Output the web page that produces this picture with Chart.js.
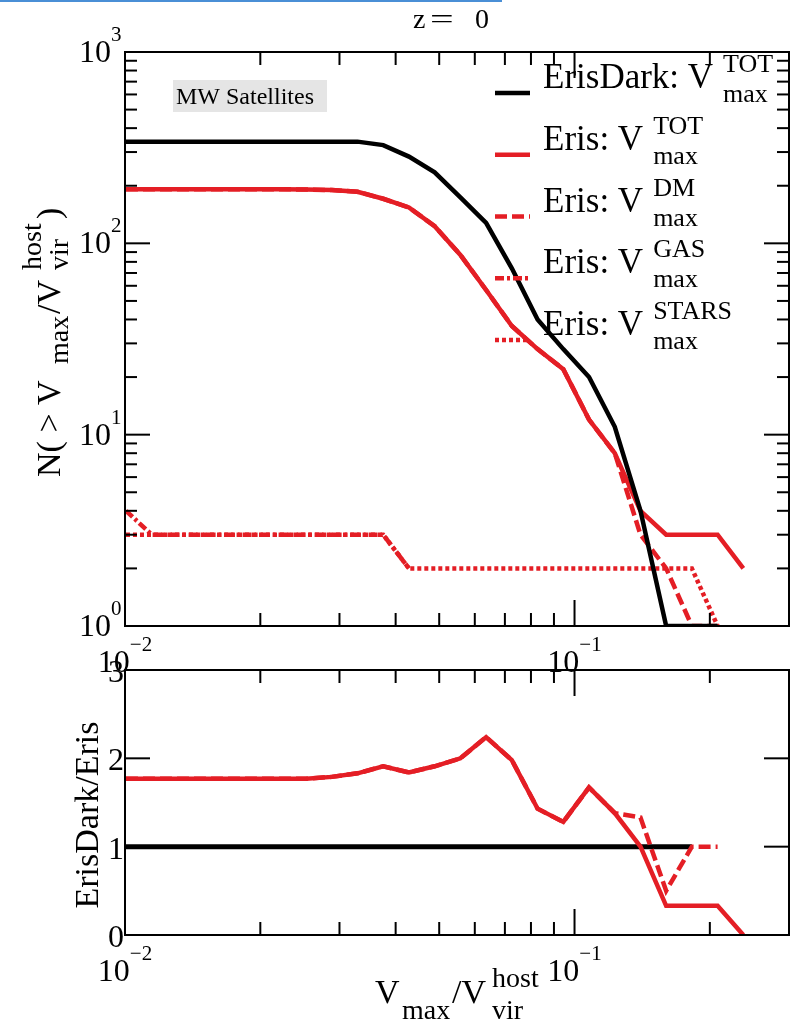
<!DOCTYPE html>
<html><head><meta charset="utf-8">
<script src="https://cdn.jsdelivr.net/npm/chart.js@4"></script>
<style>
html,body{margin:0;padding:0;background:#fff;}
#wrap{position:relative;width:792px;height:1025px;overflow:hidden;}
canvas{position:absolute;left:0;top:0;}
</style></head><body>
<div id="wrap"><canvas id="cTop" width="792" height="1025"></canvas><canvas id="cBot" width="792" height="1025"></canvas></div>
<script>
// ---- data ----
const vRatio = [0.01005, 0.01147, 0.01308, 0.01493, 0.01703, 0.01943, 0.02216, 0.02528, 0.02884, 0.03290,
                0.03753, 0.04282, 0.04885, 0.05573, 0.06358, 0.07254, 0.08276, 0.09441, 0.1077, 0.1229,
                0.1402, 0.1599, 0.1824, 0.2081, 0.2374];
const nErisDark  = [340,340,340,340,340,340,340,340,340,340,326,284,235,174,128,74,40,28,20,11,4,1,1,1,null];
const nErisTot   = [192,192,192,192,192,192,192,191,190,186,171,154,123,87,57,37,28,22,12,8,4,3,3,3,2];
const nErisDM    = [192,192,192,192,192,192,192,191,190,186,171,154,123,87,57,37,28,22,12,8,3,2,1,1,null];
const nErisGas   = [4,3,3,3,3,3,3,3,3,3,3,2,null,null,null,null,null,null,null,null,null,null,null,null,null];
const nErisStars = [3,3,3,3,3,3,3,3,3,3,3,2,2,2,2,2,2,2,2,2,2,2,2,1,null];
const ratioTot   = [1.77,1.77,1.77,1.77,1.77,1.77,1.77,1.77,1.79,1.83,1.91,1.84,1.91,2.0,2.24,1.98,1.43,1.28,1.67,1.38,1.0,0.33,0.33,0.33,0];
const ratioDM    = [1.77,1.77,1.77,1.77,1.77,1.77,1.77,1.77,1.79,1.83,1.91,1.84,1.91,2.0,2.24,1.98,1.43,1.28,1.67,1.38,1.33,0.5,1.0,1.0,null];
const ratioDark  = [1,1,1,1,1,1,1,1,1,1,1,1,1,1,1,1,1,1,1,1,1,1,1,null,null];
const xMajorTicks = [0.01, 0.1];
const xMinorTicks = [0.02,0.03,0.04,0.05,0.06,0.07,0.08,0.09,0.2,0.3];
const yTopMajor = [1, 10, 100, 1000];
const yTopMinor = [2,3,4,5,6,7,8,9,20,30,40,50,60,70,80,90,200,300,400,500,600,700,800,900];
const yBotMajor = [0, 1, 2, 3];
const legendRows = [
  {text:'ErisDark: V', sup:'TOT'},
  {text:'Eris: V', sup:'TOT'},
  {text:'Eris: V', sup:'DM'},
  {text:'Eris: V', sup:'GAS'},
  {text:'Eris: V', sup:'STARS'}
];

const RED = '#e41e25';
const SERIF = '"Liberation Serif", "Times New Roman", serif';
const pts = arr => vRatio.map((x, i) => ({x: x, y: arr[i]}));
const DASH_DM = [12, 5], DASH_GAS = [9, 3, 3, 3], DASH_STARS = [4, 3];

function seg(ctx, x1, y1, x2, y2) { ctx.beginPath(); ctx.moveTo(x1, y1); ctx.lineTo(x2, y2); ctx.stroke(); }

function pow10(ctx, exp, xLeft, base) {
  ctx.font = '32px ' + SERIF; ctx.textAlign = 'left'; ctx.textBaseline = 'alphabetic';
  ctx.fillText('10', xLeft, base);
  const w = ctx.measureText('10').width;
  ctx.font = '21px ' + SERIF;
  ctx.fillText(exp, xLeft + w, base - 21);
  return w + ctx.measureText(exp).width;
}
function powWidth(ctx, exp) {
  ctx.font = '32px ' + SERIF; const w = ctx.measureText('10').width;
  ctx.font = '21px ' + SERIF; return w + ctx.measureText(exp).width;
}
const expStr = v => (v < 0 ? '\u2212' : '') + Math.abs(v);

function drawXTicks(ctx, a, x) {
  ctx.lineWidth = 2;
  for (const t of xMinorTicks) {
    const px = x.getPixelForValue(t);
    seg(ctx, px, a.bottom, px, a.bottom - 13); seg(ctx, px, a.top, px, a.top + 13);
  }
  for (const t of xMajorTicks) {
    const px = x.getPixelForValue(t);
    seg(ctx, px, a.bottom, px, a.bottom - 26); seg(ctx, px, a.top, px, a.top + 26);
  }
}
function drawXLabels(ctx, a, x) {
  ctx.fillStyle = '#000';
  for (const t of xMajorTicks) {
    const px = x.getPixelForValue(t);
    const e = expStr(Math.round(Math.log10(t)));
    const w = powWidth(ctx, e);
    pow10(ctx, e, px - w / 2, a.bottom + 46);
  }
}

const topPlugin = {
  id: 'topDecor',
  afterDatasetsDraw(chart) {
    const {ctx, chartArea: a, scales: {x, y}} = chart;
    ctx.save();
    // blue line at top
    ctx.fillStyle = '#4a8fd6'; ctx.fillRect(0, 0, 502, 2);
    // frame
    ctx.strokeStyle = '#000'; ctx.lineWidth = 2;
    ctx.strokeRect(a.left, a.top, a.right - a.left, a.bottom - a.top);
    drawXTicks(ctx, a, x);
    ctx.lineWidth = 2;
    for (const t of yTopMinor) {
      const py = y.getPixelForValue(t);
      seg(ctx, a.left, py, a.left + 12, py); seg(ctx, a.right, py, a.right - 12, py);
    }
    for (const t of yTopMajor) {
      const py = y.getPixelForValue(t);
      seg(ctx, a.left, py, a.left + 25, py); seg(ctx, a.right, py, a.right - 25, py);
    }
    ctx.fillStyle = '#000';
    for (const t of yTopMajor) {
      const py = y.getPixelForValue(t);
      pow10(ctx, String(Math.round(Math.log10(t))), 79, py + 10);
    }
    drawXLabels(ctx, a, x);
    // title
    ctx.font = '28px ' + SERIF; ctx.textAlign = 'left';
    ctx.fillText('z', 413, 28);
    ctx.save(); ctx.translate(430, 28); ctx.scale(1.5, 1); ctx.fillText('=', 0, 0); ctx.restore();
    ctx.fillText('0', 475, 28);
    // MW Satellites box
    ctx.fillStyle = '#e5e5e5'; ctx.fillRect(173, 80, 154, 32);
    ctx.fillStyle = '#000'; ctx.font = '24px ' + SERIF;
    ctx.fillText('MW Satellites', 176, 104);
    // y axis title
    ctx.save();
    ctx.translate(60, 477); ctx.rotate(-Math.PI / 2);
    ctx.font = '34px ' + SERIF;
    ctx.fillText('N( > V', 0, 0);
    ctx.font = '28px ' + SERIF; ctx.fillText('max', 113, 8);
    ctx.font = '34px ' + SERIF; ctx.fillText('/V', 163, 0);
    ctx.font = '28px ' + SERIF; ctx.fillText('host', 207, -19); ctx.fillText('vir', 207, 8);
    ctx.font = '34px ' + SERIF; ctx.fillText(')', 258, 0);
    ctx.restore();
    // legend
    const ds = chart.data.datasets;
    legendRows.forEach((r, i) => {
      const yb = 88 + i * 61.75;
      const d = ds[i];
      ctx.strokeStyle = d.borderColor; ctx.lineWidth = 4.5;
      ctx.setLineDash(d.borderDash || []);
      seg(ctx, 495, yb + 5, 530, yb + 5);
      ctx.setLineDash([]);
      ctx.fillStyle = '#000';
      ctx.font = '35px ' + SERIF;
      ctx.fillText(r.text, 543, yb);
      const w = ctx.measureText(r.text).width;
      ctx.font = '26px ' + SERIF;
      ctx.fillText(r.sup, 543 + w + 10, yb - 16);
      ctx.fillText('max', 543 + w + 10, yb + 14);
    });
    ctx.restore();
  }
};

const botPlugin = {
  id: 'botDecor',
  afterDatasetsDraw(chart) {
    const {ctx, chartArea: a, scales: {x, y}} = chart;
    ctx.save();
    ctx.strokeStyle = '#000'; ctx.lineWidth = 2;
    ctx.strokeRect(a.left, a.top, a.right - a.left, a.bottom - a.top);
    drawXTicks(ctx, a, x);
    ctx.lineWidth = 2;
    for (const t of yBotMajor) {
      const py = y.getPixelForValue(t);
      seg(ctx, a.left, py, a.left + 25, py); seg(ctx, a.right, py, a.right - 25, py);
    }
    ctx.fillStyle = '#000'; ctx.font = '32px ' + SERIF; ctx.textAlign = 'right';
    for (const t of yBotMajor) {
      ctx.fillText(String(t), 124, y.getPixelForValue(t) + 12);
    }
    ctx.textAlign = 'left';
    drawXLabels(ctx, a, x);
    // x title
    ctx.font = '34px ' + SERIF; ctx.fillText('V', 375, 1003);
    ctx.font = '28px ' + SERIF; ctx.fillText('max', 402, 1019);
    ctx.font = '34px ' + SERIF; ctx.fillText('/V', 452, 1003);
    ctx.font = '28px ' + SERIF; ctx.fillText('host', 492, 987); ctx.fillText('vir', 492, 1019);
    // y title
    ctx.save();
    ctx.translate(98, 815); ctx.rotate(-Math.PI / 2);
    ctx.font = '34px ' + SERIF; ctx.textAlign = 'center';
    ctx.fillText('ErisDark/Eris', 0, 0);
    ctx.restore();
    ctx.restore();
  }
};

const common = {
  responsive: false, animation: false, devicePixelRatio: 1,
  plugins: {legend: {display: false}, tooltip: {enabled: false}},
  elements: {point: {radius: 0, hitRadius: 0}, line: {tension: 0, borderCapStyle: 'butt', borderJoinStyle: 'miter', fill: false}},
  events: []
};

new Chart(document.getElementById('cTop'), {
  type: 'line',
  data: {datasets: [
    {data: pts(nErisDark),  borderColor: '#000', borderWidth: 4.5},
    {data: pts(nErisTot),   borderColor: RED, borderWidth: 4.5},
    {data: pts(nErisDM),    borderColor: RED, borderWidth: 4.5, borderDash: DASH_DM},
    {data: pts(nErisGas),   borderColor: RED, borderWidth: 4.5, borderDash: DASH_GAS},
    {data: pts(nErisStars), borderColor: RED, borderWidth: 4.5, borderDash: DASH_STARS}
  ]},
  options: Object.assign({}, common, {
    layout: {padding: {left: 125, top: 52, right: 3, bottom: 399}},
    scales: {
      x: {type: 'logarithmic', min: 0.01, max: 0.3, display: false},
      y: {type: 'logarithmic', min: 1, max: 1000, display: false}
    }
  }),
  plugins: [topPlugin]
});

new Chart(document.getElementById('cBot'), {
  type: 'line',
  data: {datasets: [
    {data: pts(ratioTot),  borderColor: RED, borderWidth: 4.5},
    {data: pts(ratioDM),   borderColor: RED, borderWidth: 4.5, borderDash: DASH_DM},
    {data: pts(ratioDark), borderColor: '#000', borderWidth: 5}
  ]},
  options: Object.assign({}, common, {
    layout: {padding: {left: 125, top: 670, right: 3, bottom: 90}},
    scales: {
      x: {type: 'logarithmic', min: 0.01, max: 0.3, display: false},
      y: {type: 'linear', min: 0, max: 3, display: false}
    }
  }),
  plugins: [botPlugin]
});
</script>
</body></html>
